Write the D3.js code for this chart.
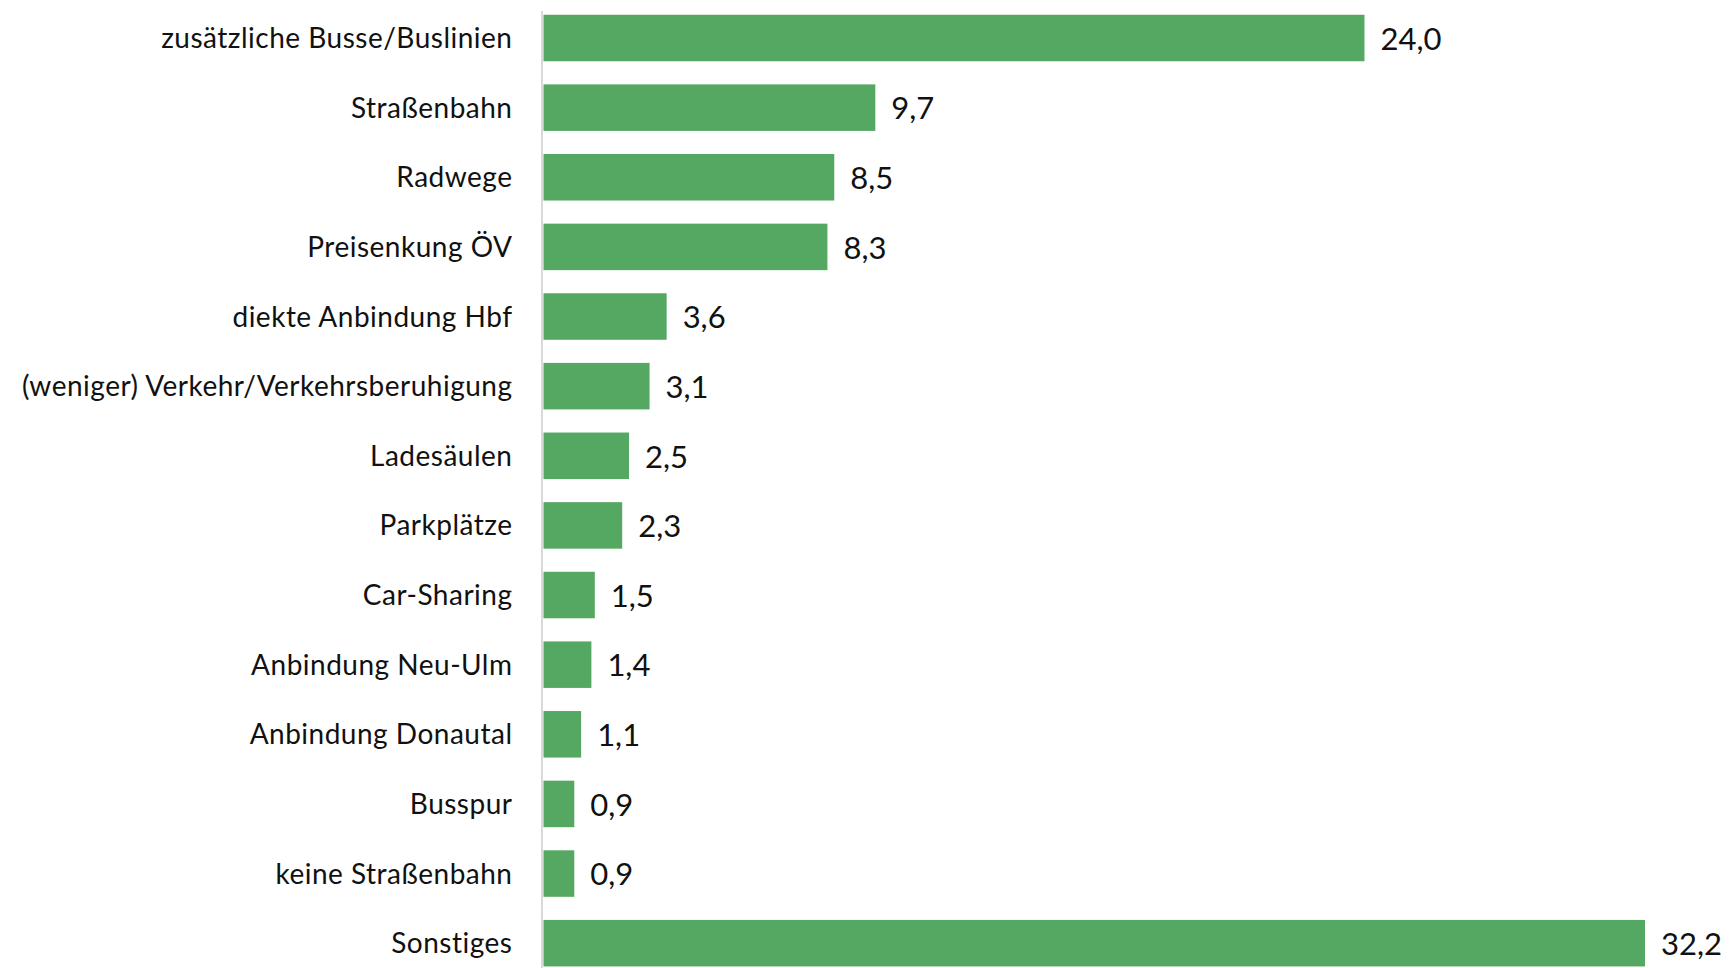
<!DOCTYPE html>
<html>
<head>
<meta charset="utf-8">
<script src="https://cdn.jsdelivr.net/npm/d3@7"></script>
<style>
  html, body { margin: 0; padding: 0; background: #fff; }
  svg { display: block; }
</style>
</head>
<body>
<script>
const categories = [
  "zusätzliche Busse/Buslinien",
  "Straßenbahn",
  "Radwege",
  "Preisenkung ÖV",
  "diekte Anbindung Hbf",
  "(weniger) Verkehr/Verkehrsberuhigung",
  "Ladesäulen",
  "Parkplätze",
  "Car-Sharing",
  "Anbindung Neu-Ulm",
  "Anbindung Donautal",
  "Busspur",
  "keine Straßenbahn",
  "Sonstiges"
];
const values = [24.0, 9.7, 8.5, 8.3, 3.6, 3.1, 2.5, 2.3, 1.5, 1.4, 1.1, 0.9, 0.9, 32.2];

const W = 1729, H = 968;
const svg = d3.select("body").append("svg").attr("width", W).attr("height", H);

const x = d3.scaleLinear().domain([0, 32.2]).range([543.5, 1645]);
const y = d3.scaleBand().domain(categories).range([3.2, 978]).paddingInner(0.332).paddingOuter(0.166);

const fmt = v => d3.format(".1f")(v).replace(".", ",");

svg.append("g").selectAll("rect").data(values).join("rect")
  .attr("x", x(0))
  .attr("y", (d, i) => y(categories[i]))
  .attr("width", d => x(d) - x(0))
  .attr("height", y.bandwidth())
  .attr("fill", "#55a861");

svg.append("line")
  .attr("x1", x(0) - 1.5).attr("x2", x(0) - 1.5)
  .attr("y1", 11).attr("y2", H)
  .attr("stroke", "#d9d9d9").attr("stroke-width", 2);

svg.append("g").selectAll("text").data(categories).join("text")
  .attr("x", x(0) - 31)
  .attr("y", d => y(d) + y.bandwidth() / 2)
  .attr("dy", "0.36em")
  .attr("text-anchor", "end")
  .attr("font-family", "Lato, 'Open Sans', sans-serif")
  .attr("font-size", 28)
  .attr("letter-spacing", 0.5)
  .attr("fill", "#111")
  .text(d => d);

svg.append("g").selectAll("text").data(values).join("text")
  .attr("x", d => x(d) + 16)
  .attr("y", (d, i) => y(categories[i]) + y.bandwidth() / 2)
  .attr("dy", "0.38em")
  .attr("font-family", "Lato, 'Open Sans', sans-serif")
  .attr("font-size", 31)
  .attr("fill", "#111")
  .text(d => fmt(d));
</script>
</body>
</html>
